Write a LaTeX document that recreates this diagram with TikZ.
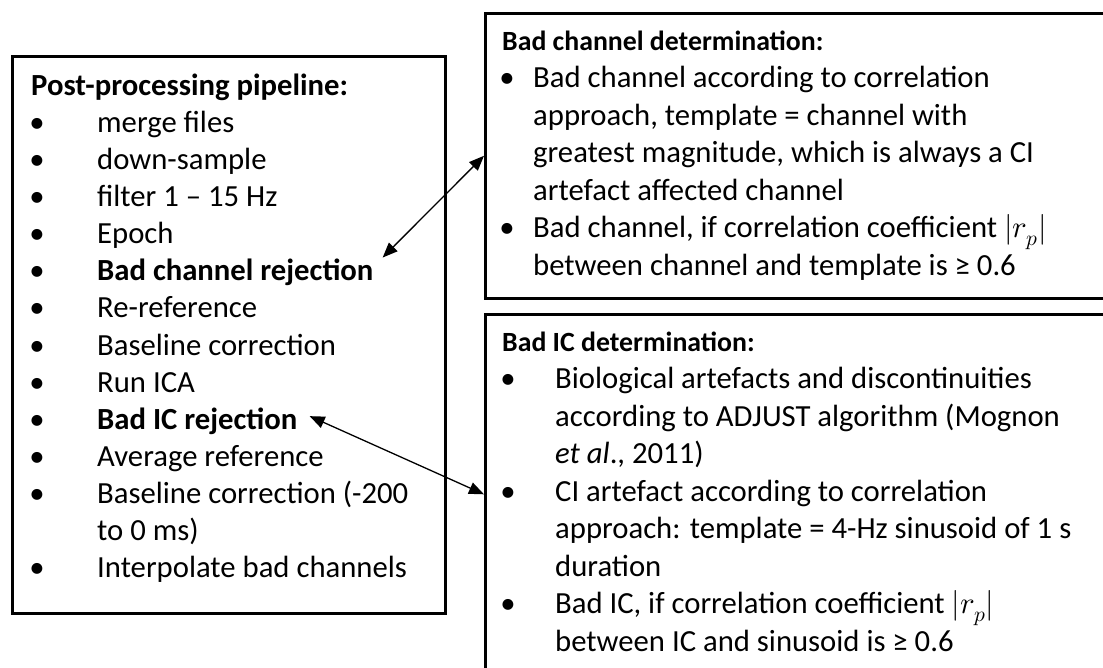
\documentclass[tikz,border=0pt]{standalone}
\usepackage{fontspec}
\usepackage{unicode-math}
\setmainfont{Carlito}
\setmathfont{Latin Modern Math}
\usetikzlibrary{arrows.meta}
\tikzset{
  frame/.style={draw, line width=2.6pt, anchor=north west, inner sep=0pt},
  txt/.style={anchor=base west, inner sep=0pt, font=\fontsize{30.7}{37.5}\selectfont},
  ttl/.style={anchor=base west, inner sep=0pt, font=\fontsize{30.7}{37.5}\selectfont\bfseries},
  sttl/.style={anchor=base west, inner sep=0pt, font=\fontsize{27.8}{33}\selectfont\bfseries},
  dot/.style={anchor=base, inner sep=0pt, font=\fontsize{30.7}{37.5}\selectfont},
  link/.style={line width=1.3pt, {Triangle[length=15pt,width=12pt]}-{Triangle[length=15pt,width=12pt]}},
}
\begin{document}
\begin{tikzpicture}[x=1pt,y=-1pt]
\useasboundingbox (0,0) rectangle (1103,667);
\clip (0,0) rectangle (1103,667);

% frames
\node[frame, minimum width=433pt, minimum height=557pt] (pipe) at (11,55) {};
\node[frame, minimum width=660pt, minimum height=285pt] (chbox) at (484,12) {};
\node[frame, minimum width=660pt, minimum height=400pt] (icbox) at (484,313) {};

% pipeline steps
\node[ttl] (pt) at (31,95) {Post-processing pipeline:};
\foreach \y/\n/\t in {132.15/p1/merge files, 169.3/p2/down-sample, 206.45/p3/filter 1 – 15 Hz,
  243.6/p4/Epoch, 317.9/p6/Re-reference, 355.05/p7/Baseline correction, 392.2/p8/Run ICA,
  466.5/p10/Average reference, 503.65/p11/Baseline correction (-200, 577.95/p13/Interpolate bad channels}{
  \node[dot] (b\n) at (37,\y) {•};
  \node[txt] (\n) at (97,\y) {\t};
}
\node[dot] (bp5) at (37,280.75) {•};
\node[ttl] (brej) at (97,280.75) {Bad channel rejection};
\node[dot] (bp9) at (37,429.35) {•};
\node[ttl] (bic) at (97,429.35) {Bad IC rejection};
\node[txt] (p12) at (97,540.8) {to 0 ms)};

% bad channel box
\node[sttl] (ct) at (502,50) {Bad channel determination:};
\node[dot] (cb1) at (507,87.5) {•};
\node[txt] (c1) at (533,87.5) {Bad channel according to correlation};
\node[txt] (c2) at (533,125) {approach, template = channel with};
\node[txt] (c3) at (533,162.5) {greatest magnitude, which is always a CI};
\node[txt] (c4) at (533,200) {artefact affected channel};
\node[dot] (cb2) at (507,237.5) {•};
\node[txt] (c5) at (533,237.5) {Bad channel, if correlation coefficient $|r_p|$};
\node[txt] (c6) at (533,275) {between channel and template is ≥ 0.6};

% bad IC box
\node[sttl] (it) at (502,351) {Bad IC determination:};
\node[dot] (ib1) at (508,388.5) {•};
\node[txt] (i1) at (555,388.5) {Biological artefacts and discontinuities};
\node[txt] (i2) at (555,426) {according to ADJUST algorithm (Mognon};
\node[txt] (i3) at (555,463.5) {\textit{et al}., 2011)};
\node[dot] (ib2) at (508,501) {•};
\node[txt] (i4) at (555,501) {CI artefact according to correlation};
\node[txt] (i5) at (555,538.5) {approach: template = 4-Hz sinusoid of 1 s};
\node[txt] (i6) at (555,576) {duration};
\node[dot] (ib3) at (508,613.5) {•};
\node[txt] (i7) at (555,613.5) {Bad IC, if correlation coefficient $|r_p|$};
\node[txt] (i8) at (555,651) {between IC and sinusoid is ≥ 0.6};

% links between steps and their criteria
\draw[link] ([shift={(9,-15)}]brej.east) -- (chbox.west);
\draw[link] ([shift={(12,-5)}]bic.east) -- ([yshift=20pt]icbox.west);
\end{tikzpicture}
\end{document}
